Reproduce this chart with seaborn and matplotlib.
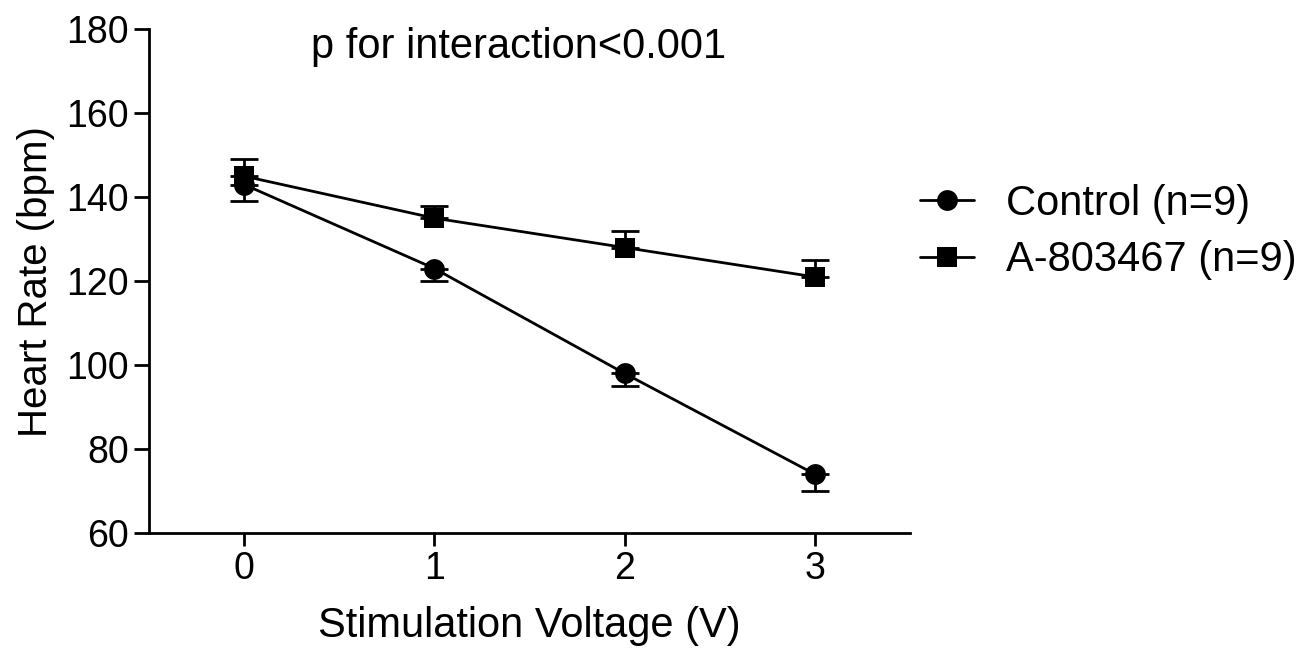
import matplotlib
matplotlib.use("Agg")
import matplotlib.pyplot as plt
import seaborn as sns
import pandas as pd
import numpy as np
from matplotlib.lines import Line2D

voltage = [0, 1, 2, 3]
control_mean = [143, 123, 98, 74]
control_err = [4, 3, 3, 4]
drug_mean = [145, 135, 128, 121]
drug_err = [4, 3, 4, 4]
groups = ["Control (n=9)", "A-803467 (n=9)"]

sns.set_style("ticks")
plt.rcParams['font.family'] = ['Liberation Sans', 'DejaVu Sans']
plt.rcParams['text.color'] = 'black'
plt.rcParams['axes.labelcolor'] = 'black'
plt.rcParams['xtick.color'] = 'black'
plt.rcParams['ytick.color'] = 'black'

df = pd.DataFrame({
    "Voltage": voltage * 2,
    "HR": control_mean + drug_mean,
    "Group": [groups[0]] * 4 + [groups[1]] * 4,
})

fig = plt.figure(figsize=(13.11, 6.5), dpi=100)
ax = fig.add_axes([0.1137, 0.18, 0.5805, 0.775])

# one-sided error bars
ax.errorbar(voltage, control_mean, yerr=[control_err, [0]*4], fmt='none',
            ecolor='black', elinewidth=2, capsize=10, capthick=2, zorder=2)
ax.errorbar(voltage, drug_mean, yerr=[[0]*4, drug_err], fmt='none',
            ecolor='black', elinewidth=2, capsize=10, capthick=2, zorder=2)

sns.lineplot(data=df, x="Voltage", y="HR", hue="Group", style="Group",
             palette=["black", "black"], markers={groups[0]: 'o', groups[1]: 's'},
             dashes=False, markersize=15, linewidth=2, markeredgewidth=0,
             ax=ax, legend=False, zorder=3)

ax.set_xlim(-0.5, 3.5)
ax.set_ylim(60, 180)
ax.set_xticks(voltage)
ax.set_yticks(np.arange(60, 181, 20))
ax.tick_params(axis='both', labelsize=27, width=2, length=9, color='black', pad=4)
ax.tick_params(axis='y', length=10.5, pad=4)
for s in ['left', 'bottom']:
    ax.spines[s].set_linewidth(2)
    ax.spines[s].set_color('black')
sns.despine(ax=ax)

ax.set_xlabel("Stimulation Voltage (V)", fontsize=30, labelpad=14)
ax.set_ylabel("Heart Rate (bpm)", fontsize=29, labelpad=8)

ax.text(1.44, 175.7, "p for interaction<0.001", fontsize=30, ha='center', va='center')

handles = [
    Line2D([], [], color='black', marker='o', markersize=15, linewidth=2, markeredgewidth=0),
    Line2D([], [], color='black', marker='s', markersize=14, linewidth=2, markeredgewidth=0),
]
fig.legend(handles, groups, loc='center left', bbox_to_anchor=(0.702, 0.643),
           frameon=False, fontsize=30, handlelength=1.3, handletextpad=0.75,
           labelspacing=0.4, borderaxespad=0, borderpad=0)

fig.savefig("out.png", dpi=100)
